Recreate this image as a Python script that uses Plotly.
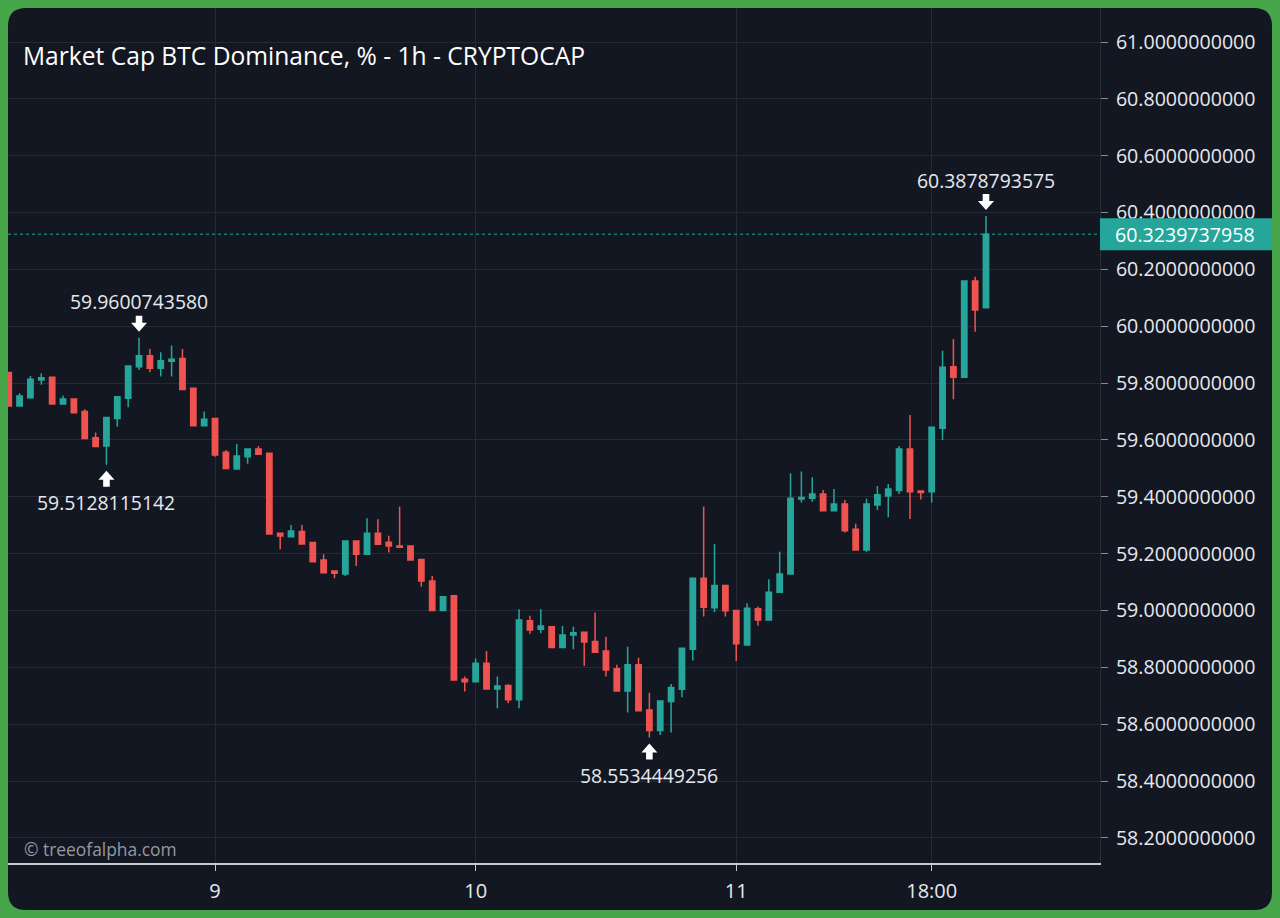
import pandas as pd
import plotly.graph_objects as go

# hourly candles, Market Cap BTC Dominance (%)
opens = [59.837, 59.720, 59.749, 59.811, 59.821, 59.727, 59.744, 59.700, 59.608, 59.579,
         59.676, 59.747, 59.858, 59.896, 59.852, 59.877, 59.887, 59.782, 59.650, 59.676,
         59.557, 59.498, 59.541, 59.568, 59.553, 59.272, 59.260, 59.278, 59.239, 59.178,
         59.139, 59.129, 59.245, 59.198, 59.272, 59.240, 59.227, 59.227, 59.180, 59.104,
         59.000, 59.052, 58.758, 58.750, 58.815, 58.724, 58.736, 58.686, 58.964, 58.934,
         58.943, 58.870, 58.914, 58.924, 58.891, 58.858, 58.795, 58.717, 58.809, 58.650,
         58.578, 58.680, 58.723, 58.864, 59.114, 59.010, 59.088, 59.000, 58.879, 59.006,
         58.967, 59.064, 59.129, 59.392, 59.395, 59.410, 59.351, 59.375, 59.286, 59.213,
         59.371, 59.403, 59.422, 59.568, 59.421, 59.418, 59.641, 59.858, 59.821, 60.159,
         60.065]
highs = [59.840, 59.764, 59.825, 59.835, 59.823, 59.756, 59.746, 59.708, 59.626, 59.681,
         59.754, 59.862, 59.9600743580, 59.920, 59.909, 59.932, 59.920, 59.783, 59.700, 59.678,
         59.565, 59.586, 59.570, 59.579, 59.555, 59.274, 59.301, 59.301, 59.240, 59.198,
         59.141, 59.247, 59.247, 59.325, 59.321, 59.263, 59.366, 59.229, 59.182, 59.122,
         59.051, 59.054, 58.768, 58.832, 58.858, 58.768, 58.741, 59.005, 58.982, 59.005,
         58.945, 58.946, 58.943, 58.926, 58.993, 58.908, 58.809, 58.873, 58.834, 58.711,
         58.684, 58.742, 58.869, 59.116, 59.366, 59.234, 59.090, 59.002, 59.026, 59.014,
         59.110, 59.207, 59.483, 59.489, 59.469, 59.424, 59.428, 59.389, 59.305, 59.393,
         59.438, 59.445, 59.579, 59.688, 59.422, 59.647, 59.914, 59.955, 60.161, 60.174,
         60.3878793575]
lows = [59.718, 59.717, 59.745, 59.794, 59.725, 59.724, 59.695, 59.603, 59.576, 59.5128115142,
        59.647, 59.715, 59.846, 59.838, 59.823, 59.823, 59.777, 59.648, 59.649, 59.541,
        59.499, 59.497, 59.516, 59.549, 59.267, 59.216, 59.258, 59.232, 59.170, 59.131,
        59.114, 59.122, 59.157, 59.196, 59.231, 59.204, 59.222, 59.176, 59.084, 58.998,
        58.998, 58.754, 58.715, 58.748, 58.722, 58.656, 58.674, 58.656, 58.918, 58.920,
        58.868, 58.868, 58.864, 58.805, 58.851, 58.768, 58.715, 58.641, 58.646, 58.5534449256,
        58.562, 58.571, 58.695, 58.824, 58.979, 58.994, 58.979, 58.823, 58.877, 58.947,
        58.965, 59.062, 59.127, 59.380, 59.383, 59.349, 59.349, 59.275, 59.211, 59.205,
        59.354, 59.328, 59.410, 59.322, 59.391, 59.380, 59.600, 59.743, 59.819, 59.981,
        60.063]
closes = [59.720, 59.755, 59.814, 59.819, 59.727, 59.744, 59.696, 59.605, 59.577, 59.679,
          59.752, 59.860, 59.896, 59.852, 59.879, 59.884, 59.778, 59.650, 59.673, 59.547,
          59.500, 59.544, 59.568, 59.550, 59.269, 59.262, 59.280, 59.234, 59.172, 59.133,
          59.131, 59.245, 59.198, 59.272, 59.233, 59.227, 59.223, 59.178, 59.104, 59.000,
          59.049, 58.756, 58.750, 58.815, 58.724, 58.735, 58.686, 58.967, 58.932, 58.946,
          58.870, 58.914, 58.922, 58.889, 58.853, 58.791, 58.717, 58.809, 58.648, 58.578,
          58.682, 58.729, 58.867, 59.114, 59.012, 59.088, 58.999, 58.883, 59.008, 58.967,
          59.064, 59.129, 59.395, 59.398, 59.410, 59.351, 59.375, 59.281, 59.213, 59.375,
          59.407, 59.428, 59.568, 59.418, 59.415, 59.645, 59.856, 59.821, 60.159, 60.057,
          60.3239737958]

start_time = "2024-11-08 05:00"
times = pd.date_range(start_time, periods=len(opens), freq="h")

x_tick_vals = ["2024-11-09", "2024-11-10", "2024-11-11", "2024-11-11 18:00"]
x_tick_text = ["9", "10", "11", "18:00"]

# candles marked with an arrow + value (index, kind)
marks = [(12, "high"), (9, "low"), (59, "low"), (90, "high")]

GREEN = "#26a69a"
RED = "#ef5350"
BG = "#131722"
GRID = "#252934"
TXT = "#e6e8ee"
FONT = "Open Sans"

fig = go.Figure()
fig.add_trace(go.Candlestick(
    x=times, open=opens, high=highs, low=lows, close=closes,
    increasing=dict(line=dict(color=GREEN, width=1.5), fillcolor=GREEN),
    decreasing=dict(line=dict(color=RED, width=1.5), fillcolor=RED),
    whiskerwidth=0, showlegend=False, hoverinfo="skip",
))

shapes = []
annotations = []

# rounded dark panel behind everything (pixel offsets from plot bottom-left)
r = 18
w, top, bot = 1264, 855, -47
panel = (f"M {r},{bot} L {w - r},{bot} Q {w},{bot} {w},{bot + r} L {w},{top - r} "
         f"Q {w},{top} {w - r},{top} L {r},{top} Q 0,{top} 0,{top - r} "
         f"L 0,{bot + r} Q 0,{bot} {r},{bot} Z")
shapes.append(dict(type="path", xref="paper", yref="paper", xsizemode="pixel", ysizemode="pixel",
                   xanchor=0, yanchor=0, path=panel, fillcolor=BG, line=dict(width=0), layer="below"))

# last price line + label
last = closes[-1]
shapes.append(dict(type="line", xref="paper", yref="y", x0=0, x1=1, y0=last, y1=last,
                   line=dict(color=GREEN, width=1, dash="3px,3px")))
shapes.append(dict(type="rect", xref="paper", yref="y", xsizemode="pixel", ysizemode="pixel",
                   xanchor=1, yanchor=last, x0=0, x1=172, y0=-16, y1=16,
                   fillcolor=GREEN, line=dict(width=0)))
annotations.append(dict(xref="paper", yref="y", x=1, y=last, xanchor="left", yanchor="middle",
                        xshift=13, text=f"{last:.10f}", showarrow=False,
                        font=dict(family=FONT, size=19.6, color="#ffffff")))

# high / low markers
down_arrow = "M 0,6 L 8,15 L 3.3,15 L 3.3,22 L -3.3,22 L -3.3,15 L -8,15 Z"
up_arrow = "M 0,-6 L 8,-15 L 3.3,-15 L 3.3,-22 L -3.3,-22 L -3.3,-15 L -8,-15 Z"
for idx, kind in marks:
    t = times[idx]
    val = highs[idx] if kind == "high" else lows[idx]
    shapes.append(dict(type="path", xref="x", yref="y", xsizemode="pixel", ysizemode="pixel",
                       xanchor=t, yanchor=val, path=down_arrow if kind == "high" else up_arrow,
                       fillcolor="#ffffff", line=dict(width=0)))
    annotations.append(dict(x=t, y=val, text=f"{val:.10f}", showarrow=False,
                            yshift=36 if kind == "high" else -38,
                            font=dict(family=FONT, size=19.4, color=TXT)))

annotations.append(dict(xref="paper", yref="paper", x=0.0119, y=0.945, xanchor="left",
                        yanchor="middle", text="Market Cap BTC Dominance, % - 1h - CRYPTOCAP",
                        showarrow=False, font=dict(family=FONT, size=24.6, color="#ffffff")))
annotations.append(dict(xref="paper", yref="paper", x=0.0128, y=0.0164, xanchor="left",
                        yanchor="middle", text="© treeofalpha.com", showarrow=False,
                        font=dict(family=FONT, size=17.4, color="#9598a1")))

fig.update_layout(
    width=1280, height=918,
    margin=dict(l=8, r=180, t=8, b=55),
    paper_bgcolor="#47a64a",
    plot_bgcolor="rgba(0,0,0,0)",
    shapes=shapes,
    annotations=annotations,
    showlegend=False,
    xaxis=dict(
        type="date",
        range=[pd.Timestamp(start_time) - pd.Timedelta(minutes=4),
               pd.Timestamp(start_time) + pd.Timedelta(hours=100.5)],
        rangeslider=dict(visible=False),
        tickvals=x_tick_vals, ticktext=x_tick_text,
        showgrid=True, gridcolor=GRID, gridwidth=1,
        showline=True, linecolor="#c8cad0", linewidth=2,
        ticks="outside", ticklen=6, tickcolor="#c8cad0",
        ticklabelstandoff=3,
        tickfont=dict(family=FONT, size=20, color=TXT),
        zeroline=False, fixedrange=True,
    ),
    yaxis=dict(
        side="right",
        range=[58.112, 61.1196],
        tick0=58.2, dtick=0.2, tickformat=".10f",
        showgrid=True, gridcolor=GRID, gridwidth=1,
        showline=True, linecolor="#2a2e39", linewidth=1,
        ticks="outside", ticklen=7, tickcolor="#8a8d96",
        ticklabelstandoff=4,
        tickfont=dict(family=FONT, size=19.6, color=TXT),
        zeroline=False,
    ),
)

# the page sits flush with the window, as in the screenshot
fig.write_html("out.html", config={"displayModeBar": False},
               post_script="document.body.style.margin='0px';")
